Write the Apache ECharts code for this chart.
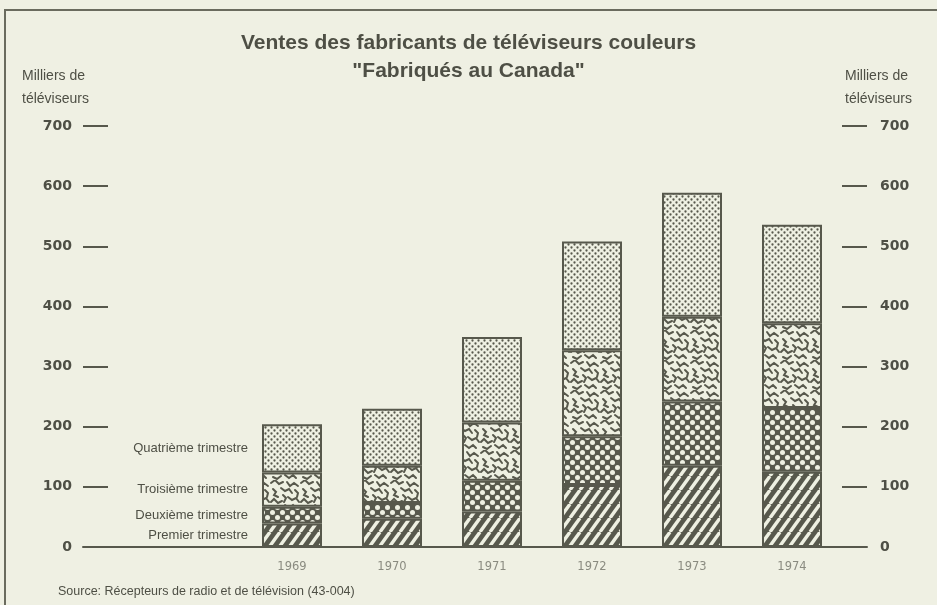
<!DOCTYPE html>
<html>
<head>
<meta charset="utf-8">
<script src="https://cdn.jsdelivr.net/npm/echarts@6/dist/echarts.min.js"></script>
<style>
  html, body { margin: 0; padding: 0; background: #eff0e3; }
  #chart { width: 937px; height: 605px; }
</style>
</head>
<body>
<div id="chart"></div>
<script>
// données (milliers de téléviseurs)
const years = ['1969', '1970', '1971', '1972', '1973', '1974']
const premier = [39, 47, 59, 103, 135, 125]
const deuxieme = [28, 26, 51, 81, 107, 106]
const troisieme = [57, 62, 97, 143, 141, 141]
const quatrieme = [80, 95, 142, 181, 206, 164]
const yTicks = [0, 100, 200, 300, 400, 500, 600, 700]

const DARK = '#57584c'
const LIGHT = '#eef0e2'
const TEXT = '#4e4f45'

// motifs de remplissage (trames)
function tile(w, h, draw) {
  const c = document.createElement('canvas')
  c.width = w
  c.height = h
  draw(c.getContext('2d'))
  return { image: c, repeat: 'repeat' }
}

const hatch = tile(10, 14, ctx => {
  ctx.fillStyle = DARK
  ctx.fillRect(0, 0, 10, 14)
  ctx.strokeStyle = LIGHT
  ctx.lineWidth = 3.4
  ;[-10, 0, 10].forEach(o => {
    ctx.beginPath()
    ctx.moveTo(o, 14)
    ctx.lineTo(o + 10, 0)
    ctx.stroke()
  })
})

const bigDots = tile(10, 10, ctx => {
  ctx.fillStyle = DARK
  ctx.fillRect(0, 0, 10, 10)
  ctx.fillStyle = LIGHT
  ;[[2.5, 2.5], [7.5, 7.5]].forEach(p => {
    ctx.beginPath()
    ctx.arc(p[0], p[1], 2.5, 0, Math.PI * 2)
    ctx.fill()
  })
})

const worms = tile(30, 30, ctx => {
  ctx.fillStyle = LIGHT
  ctx.fillRect(0, 0, 30, 30)
  ctx.strokeStyle = DARK
  ctx.lineWidth = 2
  ctx.lineCap = 'round'
  const paths = [
    [[1, 3], [5, 0], [9, 4], [13, 2]],
    [[17, 2], [20, 6], [24, 3], [28, 6]],
    [[3, 9], [6, 12], [4, 15], [8, 17]],
    [[11, 8], [15, 11], [19, 9], [22, 13]],
    [[25, 10], [28, 13], [27, 17]],
    [[1, 22], [4, 19], [8, 23], [12, 21]],
    [[13, 15], [16, 18], [14, 22]],
    [[18, 17], [22, 20], [26, 18], [29, 22]],
    [[3, 27], [7, 29], [11, 26]],
    [[15, 25], [19, 28], [23, 25], [26, 28]]
  ]
  paths.forEach(p => {
    ctx.beginPath()
    ctx.moveTo(p[0][0], p[0][1])
    for (let i = 1; i < p.length; i++) {
      ctx.lineTo(p[i][0], p[i][1])
    }
    ctx.stroke()
  })
})

const stipple = tile(6, 6, ctx => {
  ctx.fillStyle = LIGHT
  ctx.fillRect(0, 0, 6, 6)
  ctx.fillStyle = DARK
  ;[[1.5, 1.5], [4.5, 4.5]].forEach(p => {
    ctx.beginPath()
    ctx.arc(p[0], p[1], 1.15, 0, Math.PI * 2)
    ctx.fill()
  })
})

const chart = echarts.init(document.getElementById('chart'))

function barSeries(name, data, pattern) {
  return {
    name: name,
    type: 'bar',
    stack: 'total',
    xAxisIndex: 1,
    yAxisIndex: 2,
    barWidth: 60,
    data: data,
    itemStyle: {
      color: pattern,
      borderColor: DARK,
      borderWidth: 2
    },
    label: {
      show: true,
      position: 'left',
      distance: 14,
      color: TEXT,
      fontFamily: 'Liberation Sans',
      fontSize: 13,
      formatter: p => (p.dataIndex === 0 ? name : '')
    },
    emphasis: { disabled: true }
  }
}

const valueAxis = pos => ({
  type: 'value',
  gridIndex: 0,
  position: pos,
  min: yTicks[0],
  max: yTicks[yTicks.length - 1],
  interval: yTicks[1] - yTicks[0],
  axisLine: { show: false },
  axisTick: { show: true, inside: true, length: 25, lineStyle: { color: DARK, width: 2 } },
  axisLabel: {
    margin: pos === 'left' ? 11 : 13,
    color: TEXT,
    fontFamily: 'DejaVu Sans',
    fontWeight: 'bold',
    fontSize: 14
  },
  splitLine: { show: false }
})

const smallTitle = {
  fontFamily: 'Liberation Sans',
  fontSize: 14,
  fontWeight: 'normal',
  color: TEXT,
  lineHeight: 23
}

const option = {
  backgroundColor: '#eff0e3',
  animation: false,
  title: [
    {
      text: 'Ventes des fabricants de téléviseurs couleurs',
      left: 'center',
      top: 28,
      textStyle: { fontFamily: 'Liberation Sans', fontSize: 21, fontWeight: 'bold', color: TEXT }
    },
    {
      text: '"Fabriqués au Canada"',
      left: 'center',
      top: 56,
      textStyle: { fontFamily: 'Liberation Sans', fontSize: 21, fontWeight: 'bold', color: TEXT }
    },
    { text: 'Milliers de\ntéléviseurs', left: 17, top: 60, textStyle: smallTitle },
    { text: 'Milliers de\ntéléviseurs', left: 840, top: 60, textStyle: smallTitle },
    {
      text: 'Source: Récepteurs de radio et de télévision (43-004)',
      left: 53,
      top: 580,
      textStyle: { fontFamily: 'Liberation Sans', fontSize: 12.5, fontWeight: 'normal', color: TEXT }
    }
  ],
  graphic: [
    {
      type: 'rect',
      shape: { x: 5, y: 10, width: 940, height: 600 },
      style: { fill: 'none', stroke: '#6a6b5e', lineWidth: 2 },
      silent: true
    }
  ],
  grid: [
    { left: 83, right: 70, top: 126, bottom: 58 },
    { left: 242, right: 95, top: 126, bottom: 58 }
  ],
  xAxis: [
    {
      type: 'value',
      gridIndex: 0,
      min: 0,
      max: 1,
      axisLine: { show: true, lineStyle: { color: DARK, width: 2 } },
      axisTick: { show: false },
      axisLabel: { show: false },
      splitLine: { show: false }
    },
    {
      type: 'category',
      gridIndex: 1,
      data: years,
      axisLine: { show: false },
      axisTick: { show: false },
      axisLabel: {
        margin: 14,
        color: '#8a8b80',
        fontFamily: 'DejaVu Sans',
        fontSize: 11.5
      }
    }
  ],
  yAxis: [
    valueAxis('left'),
    valueAxis('right'),
    {
      type: 'value',
      gridIndex: 1,
      min: yTicks[0],
      max: yTicks[yTicks.length - 1],
      show: false
    }
  ],
  series: [
    barSeries('Premier trimestre', premier, hatch),
    barSeries('Deuxième trimestre', deuxieme, bigDots),
    barSeries('Troisième trimestre', troisieme, worms),
    barSeries('Quatrième trimestre', quatrieme, stipple)
  ]
}

chart.setOption(option)
</script>
</body>
</html>
